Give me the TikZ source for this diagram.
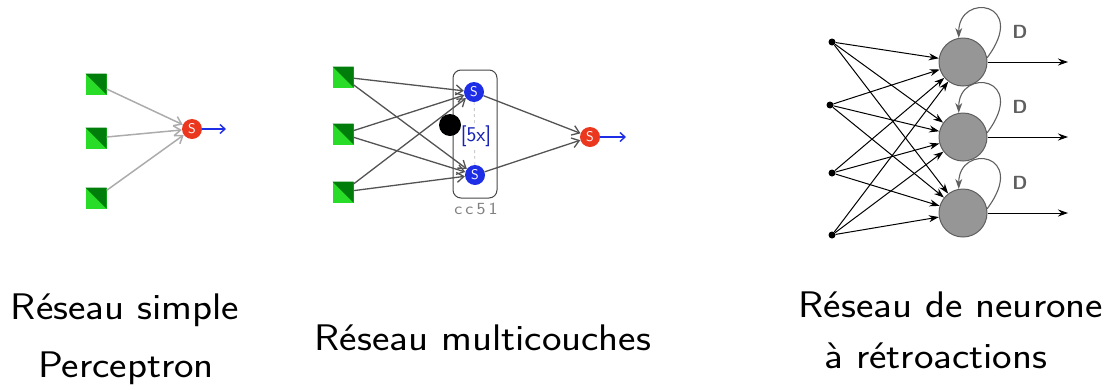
\documentclass[tikz,border=0pt]{standalone}
\usetikzlibrary{positioning,arrows.meta}
\definecolor{sqdark}{RGB}{0,125,10}
\definecolor{sqlight}{RGB}{40,220,40}
\definecolor{sred}{RGB}{235,55,30}
\definecolor{sblue}{RGB}{30,45,230}
\definecolor{nrgray}{RGB}{150,150,150}
\definecolor{loopgray}{RGB}{95,95,95}
\newcommand{\widetext}[1]{\scalebox{1.12}[1]{#1}}
\begin{document}
\begin{tikzpicture}[x=1pt,y=-1pt,
  insq/.style={rectangle, minimum size=21pt, inner sep=0pt, fill=sqlight,
    path picture={\fill[sqdark] (path picture bounding box.north west) -- (path picture bounding box.north east) -- (path picture bounding box.south east) -- cycle;}},
  sgate/.style={circle, minimum size=20pt, inner sep=0pt, text=white, font=\sffamily\fontsize{14}{14}\selectfont},
  lightlink/.style={-{Straight Barb[length=7pt,width=10pt]}, draw=gray!65, line width=1.5pt},
  darklink/.style={-{Straight Barb[length=7pt,width=10pt]}, draw=gray!20!black!75, line width=1.3pt},
  outlink/.style={-{Straight Barb[length=5pt,width=9pt]}, draw=sblue, line width=1.4pt},
  syn/.style={-{Stealth[length=10pt,width=7pt]}, line width=1pt},
  indot/.style={circle, fill=black, minimum size=7pt, inner sep=0pt},
  neuron/.style={circle, fill=nrgray, draw=loopgray, line width=1pt, minimum size=48pt, inner sep=0pt},
  caption/.style={anchor=base, font=\sffamily\fontsize{37}{58}\selectfont}
]
\useasboundingbox (0,0) rectangle (1105,389);

% Perceptron
\node[insq] (p1) at (96,84) {};
\node[insq] (p2) at (96,138) {};
\node[insq] (p3) at (96,198) {};
\node[sgate, fill=sred] (pout) at (192,129) {S};
\coordinate (pend) at (226,129);
\foreach \i in {1,2,3}
  \draw[lightlink] (p\i) -- (pout);
\draw[outlink] (pout) -- (pend);

% Multicouches
\node[insq] (m1) at (343,77) {};
\node[insq] (m2) at (343,134) {};
\node[insq] (m3) at (343,192) {};
\node[draw=gray!20!black!80, line width=1pt, rounded corners=8pt, minimum width=44pt, minimum height=128pt] (ccbox) at (475,134) {};
\node[text=gray, font=\sffamily\fontsize{17}{17}\selectfont] (cclabel) at (476,209) {\widetext{c\,c\,5\,1}};
\node[sgate, fill=sblue] (h1) at (474,92) {S};
\node[sgate, fill=sblue] (h2) at (475,175) {S};
\draw[gray!60, dashed, line width=0.6pt] (h1) -- (h2);
\node[text=sblue!80!black, fill=white, inner sep=0.5pt, font=\sffamily\fontsize{21}{21}\selectfont] (mult) at (476,136) {[5x]};
\node[sgate, fill=sred] (mout) at (590,137) {S};
\coordinate (mend) at (626,137);
\foreach \i in {1,2,3}
  \foreach \j in {1,2}
    \draw[darklink] (m\i) -- (h\j);
\foreach \j in {1,2}
  \draw[darklink] (h\j) -- (mout);
\node[circle, fill=black, minimum size=22pt, inner sep=0pt] (bdot) at (450,125) {};
\draw[outlink] (mout) -- (mend);

% Retroactions
\node[indot] (in1) at (832,42) {};
\node[indot] (in2) at (830,105) {};
\node[indot] (in3) at (832,173) {};
\node[indot] (in4) at (832,235) {};
\node[neuron] (nr1) at (963,62) {};
\node[neuron] (nr2) at (963,137) {};
\node[neuron] (nr3) at (963,213) {};
\foreach \i in {1,...,4}
  \foreach \j in {1,2,3}
    \draw[syn] (in\i) -- (nr\j);
\foreach \j/\y in {1/62,2/137,3/213} {
  \coordinate (out\j) at (1068,\y);
  \draw[syn] (nr\j) -- (out\j);
  \draw[syn, draw=loopgray, line width=1.1pt] (nr\j.10) .. controls +(42,-56) and +(0,-46) .. (nr\j.100);
  \node[text=loopgray, font=\sffamily\bfseries\fontsize{19}{19}\selectfont] (d\j) at (1020,\y-30) {D};
}

% Legendes
\node[caption] (capa) at (125,319) {\widetext{Réseau simple}};
\node[caption] (capb) at (126,377) {\widetext{Perceptron}};
\node[caption] (capc) at (483,350) {\widetext{Réseau multicouches}};
\node[caption] (capd) at (951,317) {\widetext{Réseau de neurone}};
\node[caption] (cape) at (936,368) {\widetext{à rétroactions}};
\end{tikzpicture}
\end{document}
